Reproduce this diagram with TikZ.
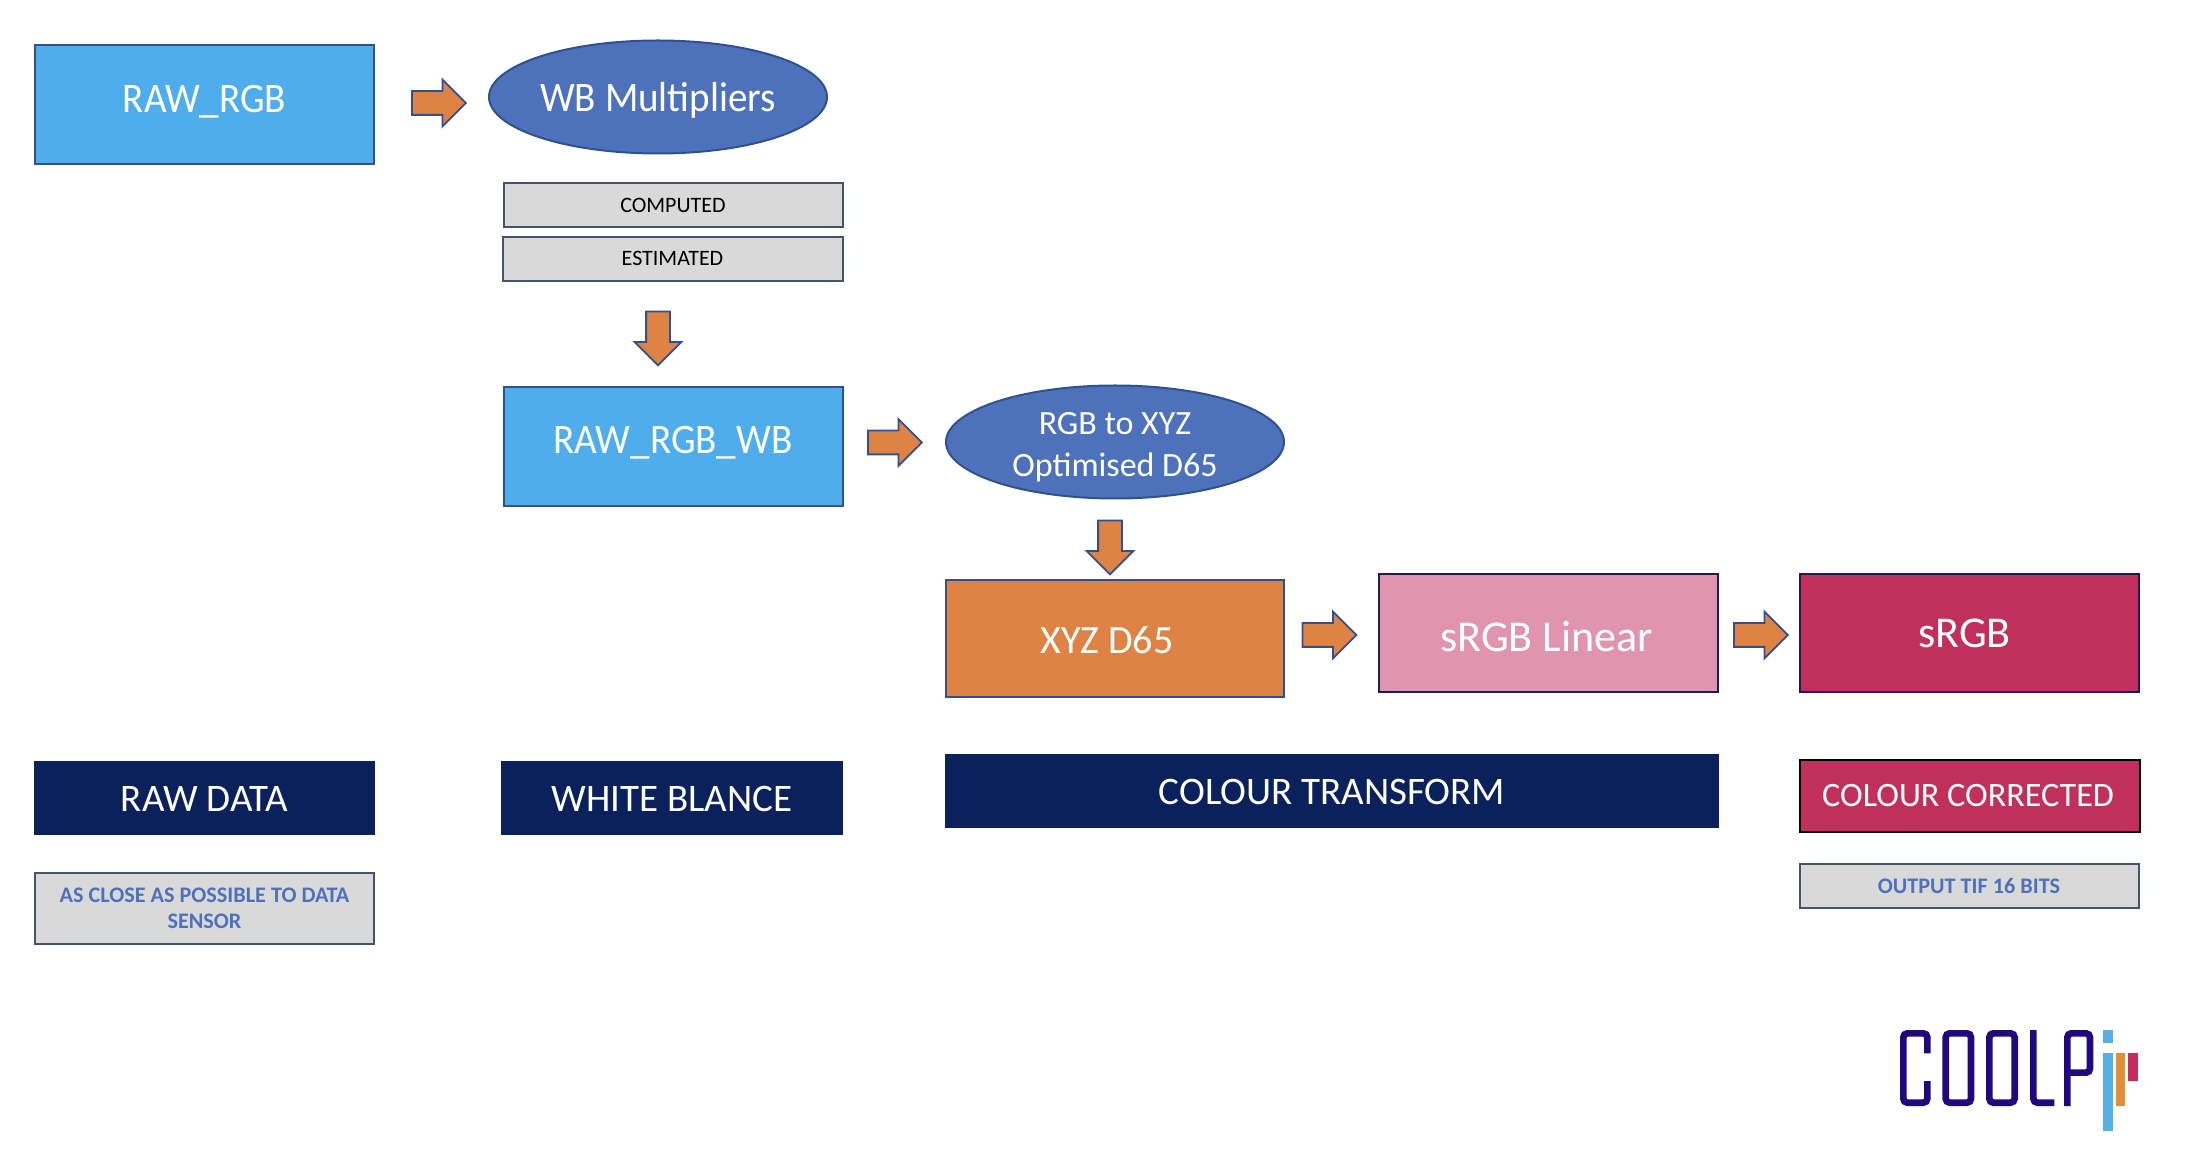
\documentclass[tikz,border=0pt]{standalone}
\usepackage{fontspec}
\setmainfont{Carlito}
\newfontfamily\condfont[FakeStretch=0.93]{Carlito}
\usetikzlibrary{shapes.geometric,shapes.arrows}
\definecolor{boxblue}{HTML}{4EADEA}
\definecolor{ellblue}{HTML}{4E71BC}
\definecolor{ellline}{HTML}{2F528F}
\definecolor{orangeF}{HTML}{DE8344}
\definecolor{pinkF}{HTML}{E094AE}
\definecolor{crimsonF}{HTML}{C1305C}
\definecolor{navyF}{HTML}{0A215C}
\definecolor{grayF}{HTML}{D9D9D9}
\definecolor{grayL}{HTML}{44546A}
\definecolor{darkL}{HTML}{1F1A4F}
\definecolor{noteblue}{HTML}{4E71BC}
\definecolor{logoNavy}{HTML}{20097F}
\definecolor{logoBlue}{HTML}{55B0E5}
\definecolor{logoOrange}{HTML}{E28F3C}
\definecolor{logoRed}{HTML}{C22D5E}
\newcommand{\lbl}[3]{\raisebox{\dimexpr #2-0.322em\relax}[0pt][0pt]{\kern #1\relax #3\kern -#1\relax}}
\newcommand{\nowide}[1]{\makebox[0pt][c]{#1}}
\tikzset{
  boxbase/.style={rectangle,inner sep=0pt,line width=1pt,text=white},
  bluebox/.style={boxbase,draw=ellline,fill=boxblue,font=\condfont\fontsize{21}{25}\selectfont},
  ellbox/.style={ellipse,inner sep=0pt,line width=1pt,draw=ellline,fill=ellblue,text=white},
  orangebox/.style={boxbase,draw=ellline,fill=orangeF,font=\fontsize{20}{24}\selectfont},
  pinkbox/.style={boxbase,draw=darkL,fill=pinkF,font=\fontsize{22}{26}\selectfont},
  redbox/.style={boxbase,draw=darkL,fill=crimsonF,font=\fontsize{22}{26}\selectfont},
  navybox/.style={boxbase,fill=navyF,font=\fontsize{19.5}{23}\selectfont},
  graybox/.style={boxbase,draw=grayL,fill=grayF,text=black,font=\fontsize{11}{13.25}\selectfont},
  notebox/.style={graybox,text=noteblue,font=\fontsize{11.1}{13.25}\selectfont\bfseries},
  blockarrow/.style={single arrow,inner sep=0pt,line width=0.9pt,draw=ellline,fill=orangeF,
    minimum height=27pt,single arrow head extend=5.75pt},
  logostroke/.style={draw=logoNavy,line width=3.33pt,rounded corners=2pt},
}
\newcommand{\shaft}{\rule{0pt}{11pt}}
\begin{document}
\begin{tikzpicture}[x=0.5pt,y=-0.5pt]
\useasboundingbox (0,0) rectangle (2192,1154);
\node[bluebox,minimum width=169.5pt,minimum height=59.5pt] (rawrgb) at (204.5,104.5) {\lbl{0pt}{3pt}{RAW\_RGB}};
\node[ellbox,minimum width=169pt,minimum height=56.5pt,font=\condfont\fontsize{21}{25}\selectfont] (wb) at (658,97) {\nowide{\lbl{0pt}{-0.6pt}{WB Multipliers}}};
\node[graybox,minimum width=169.5pt,minimum height=22pt] (computed) at (673,205.5) {\lbl{0pt}{0pt}{COMPUTED}};
\node[graybox,minimum width=170pt,minimum height=22pt] (estimated) at (672.5,259) {\lbl{0pt}{0.3pt}{ESTIMATED}};
\node[bluebox,minimum width=169.5pt,minimum height=59.5pt] (rawwb) at (673,446.5) {\lbl{0pt}{3.2pt}{RAW\_RGB\_WB}};
\node[ellbox,minimum width=169pt,minimum height=56.5pt,font=\fontsize{17}{21}\selectfont] (rgbxyz) at (1115,442) {\nowide{\lbl{0pt}{9.4pt}{\begin{tabular}[t]{@{}c@{}}RGB to XYZ\\Optimised D65\end{tabular}}}};
\node[orangebox,minimum width=169pt,minimum height=58.5pt] (xyz) at (1115,638.5) {\lbl{-4pt}{-1.2pt}{XYZ D65}};
\node[pinkbox,minimum width=169.5pt,minimum height=59pt] (linear) at (1548.5,633) {\lbl{-1pt}{-2pt}{sRGB Linear}};
\node[redbox,minimum width=169.5pt,minimum height=59pt] (srgb) at (1969,633) {\lbl{-2.2pt}{0pt}{sRGB}};
\node[navybox,minimum width=170.5pt,minimum height=37pt] (rawdata) at (204.5,798) {\lbl{0pt}{-0.5pt}{RAW DATA}};
\node[navybox,minimum width=171pt,minimum height=37pt] (white) at (672,798) {\lbl{0pt}{-0.5pt}{WHITE BLANCE}};
\node[navybox,minimum width=387pt,minimum height=37pt] (transform) at (1332,791) {\lbl{0pt}{-0.5pt}{COLOUR TRANSFORM}};
\node[boxbase,draw=black,fill=crimsonF,font=\fontsize{17.1}{20}\selectfont,minimum width=170pt,minimum height=36pt] (corrected) at (1969.5,796) {\lbl{-0.7pt}{0.2pt}{COLOUR CORRECTED}};
\node[notebox,minimum width=169.5pt,minimum height=35pt,align=center] (close) at (204.5,908.5) {AS CLOSE AS POSSIBLE TO DATA\\SENSOR};
\node[notebox,minimum width=169.5pt,minimum height=22pt] (tif) at (1969,886) {\lbl{0pt}{-0.2pt}{OUTPUT TIF 16 BITS}};
% block arrows
\node[blockarrow] (a1) at (433,103) {\shaft};
\node[blockarrow,rotate=270] (a2) at (658,332.5) {\shaft};
\node[blockarrow] (a3) at (889,442.5) {\shaft};
\node[blockarrow,rotate=270] (a4) at (1110,541.5) {\shaft};
\node[blockarrow] (a5) at (1323.5,635) {\shaft};
\node[blockarrow] (a6) at (1755,635) {\shaft};
% logo
\begin{scope}[shift={(1880,1010)},x=0.16667pt,y=-0.16667pt]
\draw[logostroke] (142,130) -- (142,70) -- (70,70) -- (70,278) -- (142,278) -- (142,213);
\draw[logostroke] (197,70) rectangle (273,278);
\draw[logostroke] (328,70) rectangle (404,278);
\draw[logostroke] (460,60) -- (460,278) -- (523,278);
\draw[logostroke] (562,288) -- (562,70) -- (630,70) -- (630,188) -- (562,188);
\fill[logoBlue] (670,60) rectangle (700,100);
\fill[logoBlue] (670,130) rectangle (700,362);
\fill[logoOrange] (708,130) rectangle (736,288);
\fill[logoRed] (745,130) rectangle (773,212);
\end{scope}
\end{tikzpicture}
\end{document}
